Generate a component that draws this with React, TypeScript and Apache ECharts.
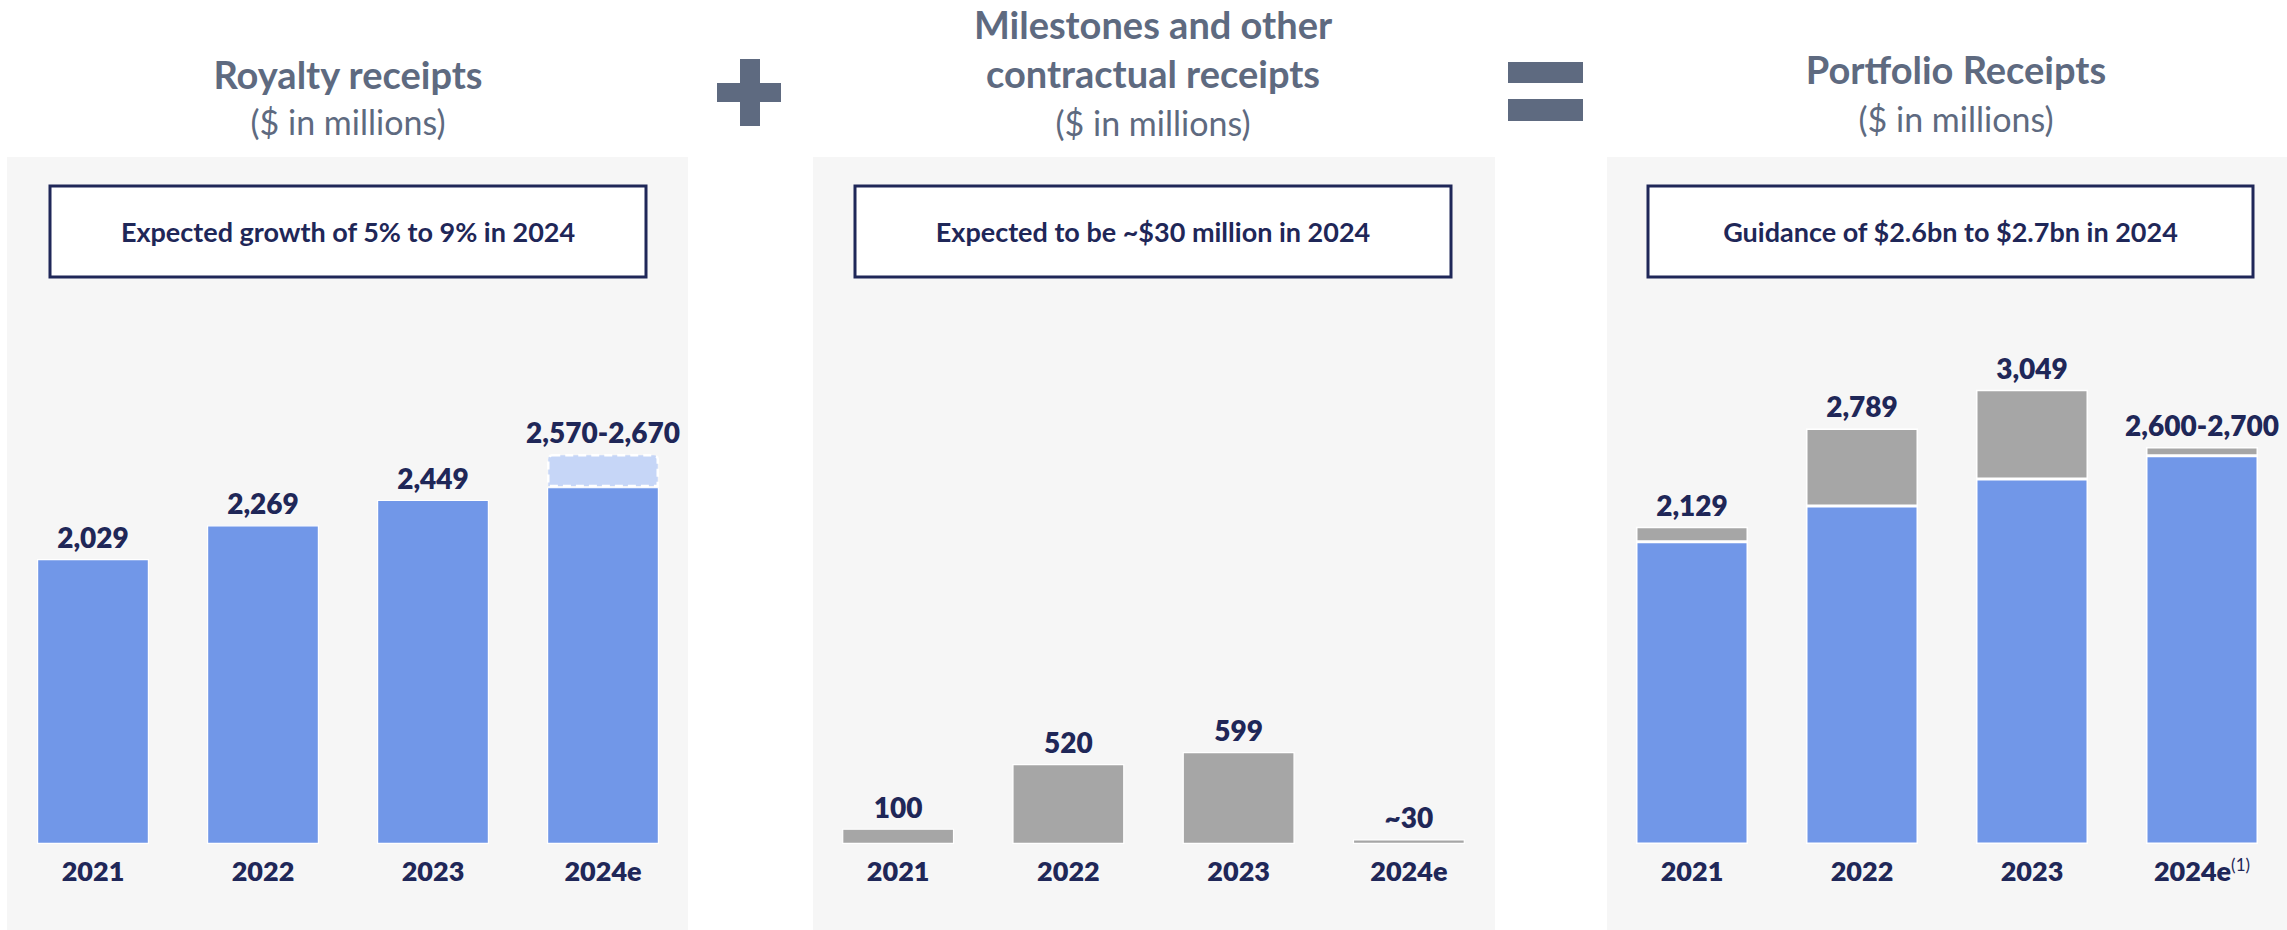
import React, { useEffect, useRef } from "react";
import * as echarts from "echarts";

const categories = ["2021", "2022", "2023", "2024e"];
const portfolioCategories = ["2021", "2022", "2023", "2024e{sup|(1)}"];

// Royalty receipts ($m); 2024e drawn as base + guidance band
const royaltyReceipts = [2029, 2269, 2449, 2540];
const royaltyGuidanceBand = [null, null, null, 235];
const royaltyLabels = ["2,029", "2,269", "2,449", "2,570-2,670"];

// Milestones and other contractual receipts ($m)
const milestoneReceipts = [100, 520, 599, 30];
const milestoneLabels = ["100", "520", "599", "~30"];

// Portfolio receipts ($m) = royalty + milestones
const portfolioRoyalty = [2029, 2269, 2449, 2605];
const portfolioMilestones = [100, 520, 599, 60];
const portfolioLabels = ["2,129", "2,789", "3,049", "2,600-2,700"];

const FONT = "Lato, 'Open Sans', sans-serif";
const NAVY = "#1F2758";
const SLATE = "#5E6A80";
const BLUE = "#7197E8";
const LIGHTBLUE = "#C6D6F7";
const GREY = "#A6A6A6";
const PANEL = "#F6F6F6";

export default function App() {
  const ref = useRef<HTMLDivElement>(null);

  useEffect(() => {
    if (!ref.current) return;
    const chart = echarts.init(ref.current, null, { renderer: "svg" });

    const baseline = 844;
    const grids = [
      { left: 8, width: 680, max: 4000, scale: 0.1405 },
      { left: 813, width: 681, max: 2000, scale: 0.1537 },
      { left: 1607, width: 681, max: 4000, scale: 0.149 },
    ];

    const valueLabel = {
      show: true,
      position: "top",
      distance: 8,
      color: NAVY,
      fontFamily: FONT,
      fontWeight: 800,
      fontSize: 28,
    };

    const barBase = {
      type: "bar",
      barWidth: 112,
      itemStyle: { borderColor: "#ffffff", borderWidth: 1.2 },
    };

    const panelTitle = (cx: number, y: number, text: string, bold: boolean, size: number) => ({
      type: "text",
      x: cx,
      y,
      z: 5,
      style: {
        text,
        fill: SLATE,
        font: `${bold ? "bold " : ""}${size}px ${FONT}`,
        align: "center",
        verticalAlign: "middle",
      },
    });

    const box = (x: number, w: number, text: string) => [
      {
        type: "rect",
        z: 1,
        shape: { x, y: 186, width: w, height: 91 },
        style: { fill: "#ffffff", stroke: NAVY, lineWidth: 3 },
      },
      {
        type: "text",
        z: 5,
        x: x + w / 2,
        y: 231,
        style: {
          text,
          fill: NAVY,
          font: `bold 27px ${FONT}`,
          align: "center",
          verticalAlign: "middle",
        },
      },
    ];

    const option: any = {
      animation: false,
      backgroundColor: "#ffffff",
      graphic: [
        { type: "rect", z: 0, shape: { x: 7, y: 157, width: 681, height: 773 }, style: { fill: PANEL } },
        { type: "rect", z: 0, shape: { x: 813, y: 157, width: 682, height: 773 }, style: { fill: PANEL } },
        { type: "rect", z: 0, shape: { x: 1607, y: 157, width: 680, height: 773 }, style: { fill: PANEL } },
        ...box(50, 596, "Expected growth of 5% to 9% in 2024"),
        ...box(855, 596, "Expected to be ~$30 million in 2024"),
        ...box(1648, 605, "Guidance of $2.6bn to $2.7bn in 2024"),
        panelTitle(348, 74, "Royalty receipts", true, 38),
        panelTitle(348, 121, "($ in millions)", false, 34),
        panelTitle(1153, 24, "Milestones and other", true, 38),
        panelTitle(1153, 73, "contractual receipts", true, 38),
        panelTitle(1153, 122, "($ in millions)", false, 34),
        panelTitle(1956, 69, "Portfolio Receipts", true, 38),
        panelTitle(1956, 118, "($ in millions)", false, 34),
        // plus sign
        { type: "rect", z: 5, shape: { x: 740, y: 59, width: 20, height: 67 }, style: { fill: SLATE } },
        { type: "rect", z: 5, shape: { x: 717, y: 83, width: 64, height: 19 }, style: { fill: SLATE } },
        // equals sign
        { type: "rect", z: 5, shape: { x: 1508, y: 62, width: 75, height: 21 }, style: { fill: SLATE } },
        { type: "rect", z: 5, shape: { x: 1508, y: 99, width: 75, height: 22 }, style: { fill: SLATE } },
      ],
      grid: grids.map((g) => ({
        left: g.left,
        width: g.width,
        top: baseline - g.max * g.scale,
        height: g.max * g.scale,
      })),
      xAxis: grids.map((_, i) => ({
        type: "category",
        gridIndex: i,
        data: i === 2 ? portfolioCategories : categories,
        axisLine: { show: false },
        axisTick: { show: false },
        axisLabel: {
          interval: 0,
          hideOverlap: false,
          margin: 11,
          color: NAVY,
          fontFamily: FONT,
          fontWeight: 800,
          fontSize: 27,
          lineHeight: 30,
          rich: {
            sup: {
              color: NAVY,
              fontFamily: FONT,
              fontSize: 17,
              fontWeight: "normal",
              lineHeight: 17,
              padding: [0, 0, 12, 0],
            },
          },
        },
      })),
      yAxis: grids.map((g, i) => ({
        type: "value",
        gridIndex: i,
        min: 0,
        max: g.max,
        show: false,
        splitLine: { show: false },
      })),
      series: [
        {
          ...barBase,
          name: "Royalty receipts",
          xAxisIndex: 0,
          yAxisIndex: 0,
          stack: "royalty",
          data: royaltyReceipts,
          itemStyle: { color: BLUE, borderColor: "#ffffff", borderWidth: 1.2 },
          label: {
            ...valueLabel,
            formatter: (p: any) => (royaltyGuidanceBand[p.dataIndex] == null ? royaltyLabels[p.dataIndex] : ""),
          },
        },
        {
          ...barBase,
          name: "Royalty guidance range",
          xAxisIndex: 0,
          yAxisIndex: 0,
          stack: "royalty",
          data: royaltyGuidanceBand,
          itemStyle: {
            color: LIGHTBLUE,
            borderColor: "#ffffff",
            borderWidth: 2.5,
            borderType: [8, 5],
            borderRadius: [4, 4, 0, 0],
          },
          label: {
            ...valueLabel,
            formatter: (p: any) => royaltyLabels[p.dataIndex],
          },
        },
        {
          ...barBase,
          name: "Milestones and other contractual receipts",
          xAxisIndex: 1,
          yAxisIndex: 1,
          data: milestoneReceipts,
          itemStyle: { color: GREY, borderColor: "#ffffff", borderWidth: 1.2 },
          label: {
            ...valueLabel,
            formatter: (p: any) => milestoneLabels[p.dataIndex],
          },
        },
        {
          ...barBase,
          name: "Portfolio royalty",
          xAxisIndex: 2,
          yAxisIndex: 2,
          stack: "portfolio",
          data: portfolioRoyalty,
          itemStyle: { color: BLUE, borderColor: "#ffffff", borderWidth: 1.5 },
        },
        {
          ...barBase,
          name: "Portfolio milestones",
          xAxisIndex: 2,
          yAxisIndex: 2,
          stack: "portfolio",
          data: portfolioMilestones,
          itemStyle: { color: GREY, borderColor: "#ffffff", borderWidth: 1.5 },
          label: {
            ...valueLabel,
            formatter: (p: any) => portfolioLabels[p.dataIndex],
          },
        },
      ],
    };

    chart.setOption(option);
    return () => chart.dispose();
  }, []);

  return (
    <div
      ref={ref}
      style={{ position: "fixed", left: 0, top: 0, width: 2287, height: 930, background: "#ffffff" }}
    />
  );
}
